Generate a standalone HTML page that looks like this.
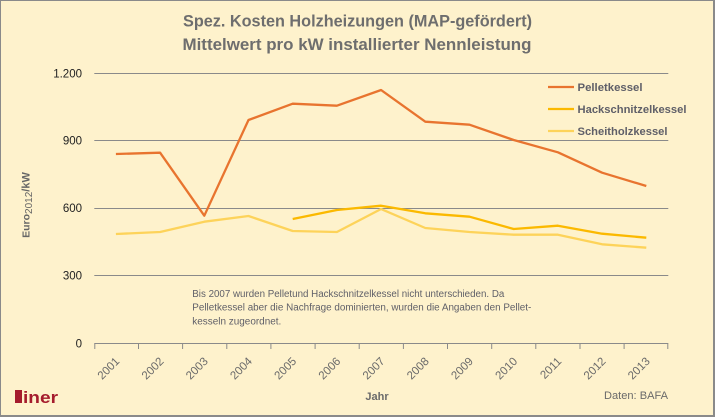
<!DOCTYPE html>
<html><head><meta charset="utf-8"><style>
html,body{margin:0;padding:0;background:#fef2cc;}
svg{display:block;}
text{font-family:"Liberation Sans",Arial,sans-serif;}
</style></head><body>
<svg width="715" height="417" viewBox="0 0 715 417" xmlns="http://www.w3.org/2000/svg">
<rect x="0" y="0" width="715" height="417" fill="#fef2cc"/>
<!-- border -->
<rect x="0" y="0" width="715" height="1" fill="#8a8a8a"/>
<rect x="0" y="0" width="1" height="417" fill="#8a8a8a"/>
<rect x="713" y="0" width="2" height="417" fill="#8a8a8a"/>
<rect x="0" y="415" width="715" height="2" fill="#8a8a8a"/>

<!-- title -->
<text x="357.5" y="26.5" text-anchor="middle" font-size="16.5" font-weight="bold" fill="#6e6e6e" textLength="349" lengthAdjust="spacingAndGlyphs">Spez. Kosten Holzheizungen (MAP-gefördert)</text>
<text x="357" y="50" text-anchor="middle" font-size="16.5" font-weight="bold" fill="#6e6e6e" textLength="349" lengthAdjust="spacingAndGlyphs">Mittelwert pro kW installierter Nennleistung</text>

<!-- gridlines -->
<g stroke="#8a8a8a" stroke-width="1">
<line x1="94.3" y1="73.5" x2="668.3" y2="73.5"/>
<line x1="94.3" y1="140.5" x2="668.3" y2="140.5"/>
<line x1="94.3" y1="208.5" x2="668.3" y2="208.5"/>
<line x1="94.3" y1="275.5" x2="668.3" y2="275.5"/>
<line x1="94.3" y1="343.5" x2="668.3" y2="343.5"/>
</g>
<g stroke="#8a8a8a" stroke-width="1">
<line x1="94.8" y1="343.5" x2="94.8" y2="349"/>
<line x1="138.5" y1="343.5" x2="138.5" y2="349"/>
<line x1="182.6" y1="343.5" x2="182.6" y2="349"/>
<line x1="226.8" y1="343.5" x2="226.8" y2="349"/>
<line x1="270.9" y1="343.5" x2="270.9" y2="349"/>
<line x1="315.1" y1="343.5" x2="315.1" y2="349"/>
<line x1="359.2" y1="343.5" x2="359.2" y2="349"/>
<line x1="403.4" y1="343.5" x2="403.4" y2="349"/>
<line x1="447.5" y1="343.5" x2="447.5" y2="349"/>
<line x1="491.7" y1="343.5" x2="491.7" y2="349"/>
<line x1="535.8" y1="343.5" x2="535.8" y2="349"/>
<line x1="580" y1="343.5" x2="580" y2="349"/>
<line x1="624.1" y1="343.5" x2="624.1" y2="349"/>
<line x1="667.8" y1="343.5" x2="667.8" y2="349"/>
</g>

<!-- y tick labels -->
<g font-size="11.5" fill="#222" text-anchor="end">
<text x="82" y="77.5">1.200</text>
<text x="82" y="144.5">900</text>
<text x="82" y="212">600</text>
<text x="82" y="279.5">300</text>
<text x="82" y="347.5">0</text>
</g>

<!-- y axis title -->
<text transform="translate(29.5,205) rotate(-90)" text-anchor="middle" fill="#666" font-weight="bold" font-size="10.5"><tspan>Euro</tspan><tspan font-weight="normal" font-size="10" dy="2.5">2012</tspan><tspan dy="-2.5" font-size="11">/kW</tspan></text>

<!-- x labels -->
<g font-size="11.5" fill="#6a6a6a" text-anchor="end">
<text transform="translate(120.2,362) rotate(-45)">2001</text>
<text transform="translate(164.4,362) rotate(-45)">2002</text>
<text transform="translate(208.6,362) rotate(-45)">2003</text>
<text transform="translate(252.8,362) rotate(-45)">2004</text>
<text transform="translate(297,362) rotate(-45)">2005</text>
<text transform="translate(341.2,362) rotate(-45)">2006</text>
<text transform="translate(385.4,362) rotate(-45)">2007</text>
<text transform="translate(429.6,362) rotate(-45)">2008</text>
<text transform="translate(473.8,362) rotate(-45)">2009</text>
<text transform="translate(518,362) rotate(-45)">2010</text>
<text transform="translate(562.2,362) rotate(-45)">2011</text>
<text transform="translate(606.4,362) rotate(-45)">2012</text>
<text transform="translate(650.6,362) rotate(-45)">2013</text>
</g>

<!-- series -->
<polyline fill="none" stroke="#fdd35a" stroke-width="2.3" stroke-linejoin="round" points="115.9,234 160.1,232 204.3,221.7 248.5,216 292.7,231 336.9,232 381.1,209 425.3,228 469.5,232 513.7,234.7 557.9,234.7 602.1,244.3 646.3,247.7"/>
<polyline fill="none" stroke="#fbb900" stroke-width="2.3" stroke-linejoin="round" points="292.7,219 336.9,210 381.1,205.7 425.3,213.3 469.5,216.7 513.7,229 557.9,225.7 602.1,233.7 646.3,237.7"/>
<polyline fill="none" stroke="#e8742f" stroke-width="2.3" stroke-linejoin="round" points="115.9,154 160.1,152.7 204.3,215.7 248.5,120 292.7,103.7 336.9,105.7 381.1,90 425.3,121.7 469.5,124.7 513.7,140 557.9,152.3 602.1,172.7 646.3,186"/>

<!-- legend -->
<line x1="548" y1="87" x2="574" y2="87" stroke="#e8742f" stroke-width="2.3"/>
<line x1="548" y1="109" x2="574" y2="109" stroke="#fbb900" stroke-width="2.3"/>
<line x1="548" y1="131" x2="574" y2="131" stroke="#fdd35a" stroke-width="2.3"/>
<g font-size="11" font-weight="bold" fill="#5f5f68">
<text x="577.5" y="91" textLength="65" lengthAdjust="spacingAndGlyphs">Pelletkessel</text>
<text x="577.5" y="113" textLength="109" lengthAdjust="spacingAndGlyphs">Hackschnitzelkessel</text>
<text x="577.5" y="135" textLength="90" lengthAdjust="spacingAndGlyphs">Scheitholzkessel</text>
</g>

<!-- annotation -->
<g font-size="10" fill="#5f5f68">
<text x="192.3" y="297" textLength="312" lengthAdjust="spacingAndGlyphs">Bis 2007 wurden Pelletund Hackschnitzelkessel nicht unterschieden. Da</text>
<text x="192.3" y="310.5" textLength="339" lengthAdjust="spacingAndGlyphs">Pelletkessel aber die Nachfrage dominierten, wurden die Angaben den Pellet-</text>
<text x="192.3" y="324.5" textLength="89" lengthAdjust="spacingAndGlyphs">kesseln zugeordnet.</text>
</g>

<!-- axis title & source -->
<text x="377" y="400" text-anchor="middle" font-size="11" font-weight="bold" fill="#6a6a6a">Jahr</text>
<text x="668" y="399" text-anchor="end" font-size="11" fill="#6a6a6a" textLength="64" lengthAdjust="spacingAndGlyphs">Daten: BAFA</text>

<!-- logo -->
<rect x="15" y="390" width="7" height="13" fill="#a51c2d"/>
<text x="23" y="403" font-size="17" font-weight="bold" fill="#a51c2d" textLength="35" lengthAdjust="spacingAndGlyphs">iner</text>
</svg>
</body></html>
